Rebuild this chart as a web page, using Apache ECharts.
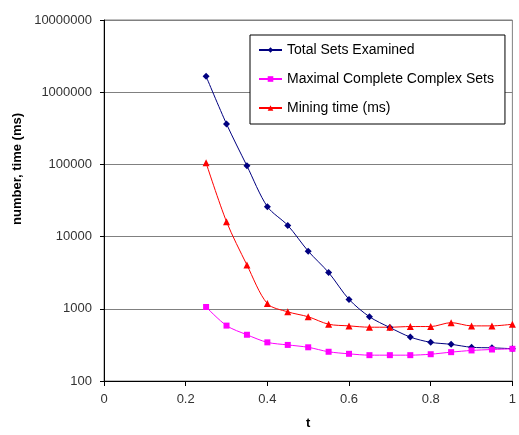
<!DOCTYPE html>
<html>
<head>
<meta charset="utf-8">
<script src="https://cdn.jsdelivr.net/npm/echarts@6/dist/echarts.min.js"></script>
<style>
  html, body { margin: 0; padding: 0; background: #fff; }
  #chart { width: 519px; height: 435px; }
</style>
</head>
<body>
<div id="chart"></div>
<script>
const tValues = [0.25, 0.30, 0.35, 0.40, 0.45, 0.50, 0.55, 0.60, 0.65, 0.70, 0.75, 0.80, 0.85, 0.90, 0.95, 1.00];
const totalSets = [1660000, 363000, 95500, 26000, 14300, 6290, 3180, 1350, 776, 550, 406, 343, 322, 293, 288, 280];
const maximalSets = [1060, 585, 437, 343, 316, 293, 254, 238, 228, 228, 228, 235, 251, 265, 273, 279];
const miningTime = [105000, 16100, 4050, 1180, 907, 776, 611, 580, 556, 556, 568, 568, 643, 580, 580, 611];
const seriesNames = ['Total Sets Examined', 'Maximal Complete Complex Sets', 'Mining time (ms)'];

const FONT = 'Liberation Sans, Arial, sans-serif';

function pairs(values) {
    return tValues.map((t, i) => [t, values[i]]);
}

const chart = echarts.init(document.getElementById('chart'));

const option = {
    backgroundColor: '#fff',
    animation: false,
    grid: {
        left: 104,
        right: 2,
        top: 20,
        bottom: 48,
        show: true,
        borderColor: '#808080',
        borderWidth: 1,
        backgroundColor: 'transparent'
    },
    legend: {
        orient: 'vertical',
        left: 250,
        top: 35,
        padding: [8, 11, 9, 8],
        itemGap: 15,
        itemWidth: 23,
        itemHeight: 7,
        borderColor: '#000',
        borderWidth: 1,
        backgroundColor: '#fff',
        data: seriesNames,
        textStyle: {
            fontFamily: FONT,
            fontSize: 14,
            lineHeight: 14,
            color: '#000'
        }
    },
    graphic: [
        {
            type: 'text',
            left: 11,
            top: 113,
            rotation: Math.PI / 2,
            style: {
                text: 'number, time (ms)',
                font: 'bold 13px ' + FONT,
                fill: '#000'
            }
        }
    ],
    xAxis: {
        type: 'value',
        min: 0,
        max: 1,
        interval: 0.2,
        name: 't',
        nameLocation: 'middle',
        nameGap: 36,
        nameTextStyle: {
            fontFamily: FONT,
            fontSize: 13,
            fontWeight: 'bold',
            color: '#000'
        },
        axisLine: { lineStyle: { color: '#000', width: 1 } },
        axisTick: { show: true, length: 5, lineStyle: { color: '#000' } },
        axisLabel: {
            margin: 12,
            fontFamily: FONT,
            fontSize: 13,
            color: '#333',
            formatter: v => String(Math.round(v * 10) / 10)
        },
        splitLine: { show: false }
    },
    yAxis: {
        type: 'log',
        logBase: 10,
        min: 100,
        max: 10000000,
        axisLine: { show: true, lineStyle: { color: '#000', width: 1 } },
        axisTick: { show: true, length: 4, lineStyle: { color: '#000' } },
        axisLabel: {
            margin: 12,
            fontFamily: FONT,
            fontSize: 13,
            color: '#333',
            formatter: v => String(Math.round(v))
        },
        splitLine: { show: true, lineStyle: { color: '#808080', width: 1 } }
    },
    series: [
        {
            name: seriesNames[0],
            type: 'line',
            data: pairs(totalSets),
            smooth: 0.3,
            symbol: 'diamond',
            symbolSize: 7,
            itemStyle: { color: '#000080' },
            lineStyle: { color: '#000080', width: 1 }
        },
        {
            name: seriesNames[1],
            type: 'line',
            data: pairs(maximalSets),
            smooth: 0.3,
            symbol: 'rect',
            symbolSize: 6,
            itemStyle: { color: '#ff00ff' },
            lineStyle: { color: '#ff00ff', width: 1 }
        },
        {
            name: seriesNames[2],
            type: 'line',
            data: pairs(miningTime),
            smooth: 0.3,
            symbol: 'triangle',
            symbolSize: 7,
            itemStyle: { color: '#ff0000' },
            lineStyle: { color: '#ff0000', width: 1 }
        }
    ]
};

chart.setOption(option);
</script>
</body>
</html>
